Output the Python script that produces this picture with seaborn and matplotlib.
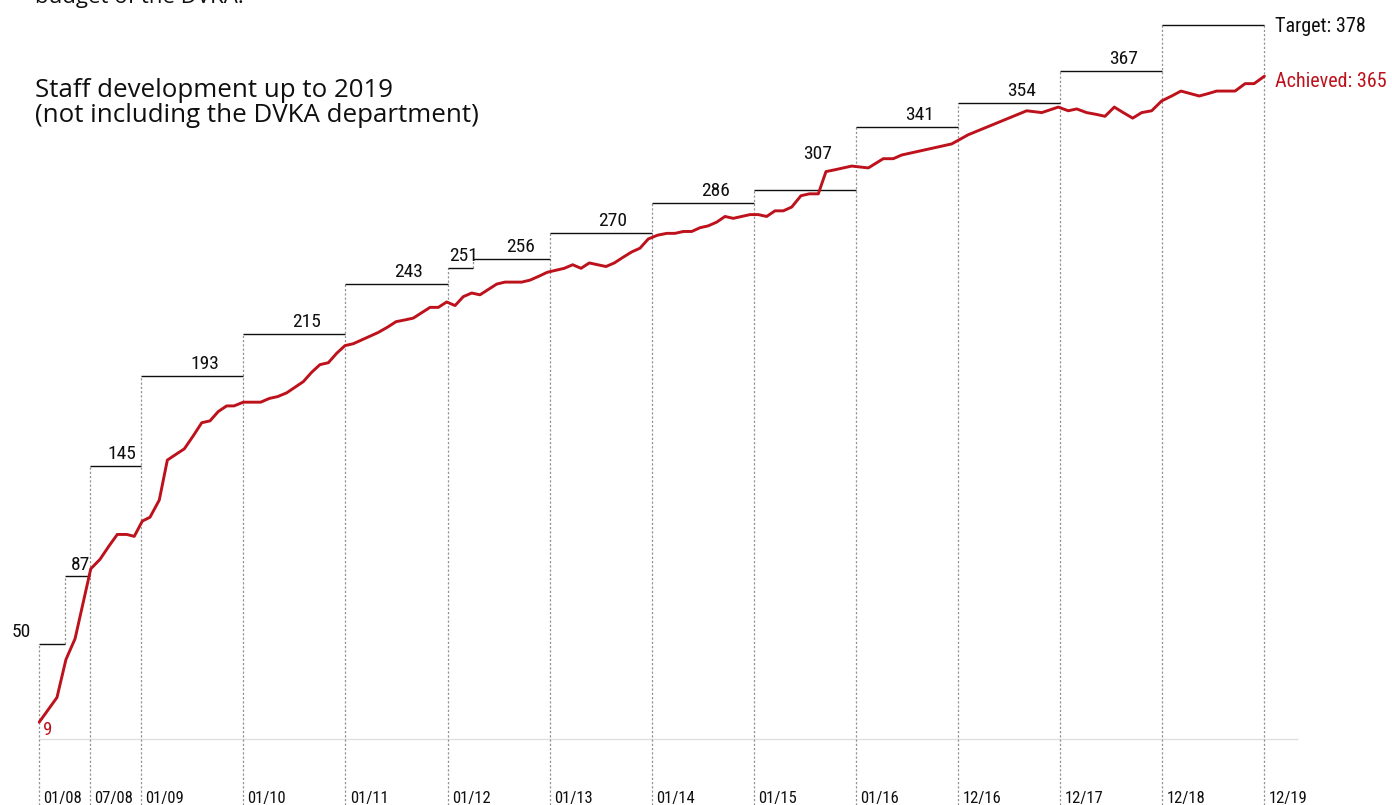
import numpy as np
import pandas as pd
import matplotlib
matplotlib.use("Agg")
import matplotlib.pyplot as plt
import seaborn as sns
from matplotlib import font_manager
from matplotlib.transforms import blended_transform_factory

# --- staffing targets per planning period (x in chart years from 01/08) ---
period_start = [0, 0.25, 0.5, 1, 2, 3, 4, 4.25, 5, 6, 7, 8, 9, 10, 11]
period_end = [0.25, 0.5, 1, 2, 3, 4, 4.25, 5, 6, 7, 8, 9, 10, 11, 12]
targets = [50, 87, 145, 193, 215, 243, 251, 256, 270, 286, 307, 341, 354, 367, 378]
# drawn height of each target level (the step levels are spaced by eye)
target_heights = [50.0, 85.7, 144.0, 191.2, 213.2, 239.6, 247.9, 252.6, 266.3,
                  282.1, 289.1, 322.1, 334.7, 351.6, 375.9]

# --- date axis ---
tick_pos = [0, 0.5, 1, 2, 3, 4, 5, 6, 7, 8, 9, 10, 11, 12]
tick_labels = ["01/08", "07/08", "01/09", "01/10", "01/11", "01/12", "01/13",
               "01/14", "01/15", "01/16", "12/16", "12/17", "12/18", "12/19"]

# --- achieved staff numbers ---
t_years = [0.000, 0.174, 0.262, 0.351, 0.505, 0.596, 0.684, 0.765, 0.857, 0.931,
           1.010, 1.085, 1.176, 1.255, 1.337, 1.421, 1.509, 1.592, 1.673, 1.754,
           1.836, 1.908, 1.999, 2.081, 2.169, 2.254, 2.336, 2.424, 2.505, 2.587,
           2.669, 2.750, 2.832, 2.914, 2.995, 3.076, 3.159, 3.240, 3.321, 3.413,
           3.495, 3.583, 3.664, 3.746, 3.828, 3.909, 3.991, 4.073, 4.154, 4.236,
           4.317, 4.399, 4.481, 4.562, 4.643, 4.726, 4.807, 4.895, 4.977, 5.062,
           5.143, 5.225, 5.307, 5.388, 5.470, 5.551, 5.633, 5.715, 5.803, 5.884,
           5.966, 6.056, 6.146, 6.227, 6.309, 6.391, 6.472, 6.553, 6.636, 6.717,
           6.798, 6.881, 6.962, 7.043, 7.125, 7.207, 7.288, 7.370, 7.461, 7.543,
           7.631, 7.706, 7.794, 7.876, 7.958, 8.121, 8.267, 8.365, 8.448, 8.529,
           8.610, 8.692, 8.774, 8.855, 8.937, 9.100, 9.672, 9.819, 9.981, 10.079,
           10.162, 10.260, 10.357, 10.439, 10.530, 10.618, 10.710, 10.798, 10.896, 10.994,
           11.092, 11.183, 11.271, 11.362, 11.451, 11.533, 11.624, 11.713, 11.811, 11.899,
           12.000]
staff = [9, 22, 42, 53, 91, 96, 103, 109, 109, 108,
         116, 118, 127, 148, 151, 154, 161, 168, 169, 174,
         177, 177, 179, 179, 179, 181, 182, 184, 187, 190,
         195, 199, 200, 205, 209, 210, 212, 214, 216, 219,
         222, 223, 224, 227, 230, 230, 233, 231, 236, 238,
         237, 240, 243, 244, 244, 244, 245, 247, 249, 250,
         251, 253, 251, 254, 253, 252, 254, 257, 260, 262,
         267, 269, 270, 270, 271, 271, 273, 274, 276, 279,
         278, 279, 280, 280, 279, 282, 282, 284, 298, 301,
         301, 317, 318, 319, 320, 319, 324, 324, 326, 327,
         328, 329, 330, 331, 332, 337, 350, 349, 352, 350,
         351, 349, 348, 347, 352, 349, 346, 349, 350, 355,
         357, 359, 358, 357, 358, 359, 359, 359, 362, 362,
         365]

RED = "#bd111c"
INK = "#0f0f0f"


def has_family(name, stretch="normal"):
    try:
        path = font_manager.findfont(
            font_manager.FontProperties(family=name, stretch=stretch),
            fallback_to_default=False)
    except ValueError:
        return False
    return path is not None


def narrow_family():
    """Return (family, stretch) of an installed narrow sans face, if any."""
    for name in ["Liberation Sans Narrow", "Roboto Condensed", "Noto Sans Condensed",
                 "Open Sans Condensed", "DejaVu Sans Condensed"]:
        if has_family(name):
            return name, "normal"
    for f in font_manager.fontManager.ttflist:
        narrow = (str(f.stretch) in ("condensed", "semi-condensed")
                  or "Narrow" in f.name or "Condensed" in f.name)
        if narrow and f.style == "normal" and f.weight in (400, "normal", "regular"):
            return f.name, f.stretch
    return None, "normal"


sns.set_theme(style="white")
WIDE = "Open Sans" if has_family("Open Sans") else "DejaVu Sans"
NARROW, STRETCH = narrow_family()
if NARROW is None:
    NARROW = "Roboto" if has_family("Roboto") else "DejaVu Sans"
    SIZES = dict(step=12.2, tick=10.6, side=12.6, first=12.5)
else:
    SIZES = dict(step=14.0, tick=12.0, side=14.5, first=13.5)
plt.rcParams["font.family"] = [NARROW, "DejaVu Sans"]
plt.rcParams["font.stretch"] = STRETCH

# vertical scale follows the drawn heights of the target steps
knots_v = np.array([-50.0, 0.0] + targets + [420.0])
knots_h = np.array([-50.0, 0.0] + target_heights + [420.0])


def forward(v):
    return np.interp(v, knots_v, knots_h)


def inverse(h):
    return np.interp(h, knots_h, knots_v)


fig = plt.figure(figsize=(13.92, 8.05), dpi=100)
ax = fig.add_axes([0, 0, 1, 1])
ax.set_axis_off()

df = pd.DataFrame({"year": t_years, "staff": staff})
sns.lineplot(data=df, x="year", y="staff", ax=ax, color=RED, linewidth=2.1,
             estimator=None, sort=False, zorder=5)

ax.set_yscale("function", functions=(forward, inverse))
ax.set_xlim(-0.384, 13.25)
ax.set_ylim(-34.6, 390.6)
y_bottom = ax.get_ylim()[0]

# light baseline at zero
ax.hlines(0, tick_pos[0], tick_pos[-1] + 0.33, color="#dedede", lw=0.9, zorder=1)

# target steps
ax.hlines(targets, period_start, period_end, color=INK, lw=1.0, zorder=3)

# dashed separators between periods
level_at = {}
for s, e, v in zip(period_start, period_end, targets):
    level_at.setdefault(s, []).append(v)
    level_at.setdefault(e, []).append(v)
for b, levels in sorted(level_at.items()):
    top = max(levels)
    low = y_bottom if b in tick_pos else min(levels)
    ax.vlines(b, low, top, color="#949494", lw=0.9,
              linestyles=(0, (1.8, 1.6)), zorder=2)

# target labels (lifted above the achieved line where it runs higher)
t_arr = np.array(t_years)
s_arr = np.array(staff)
for i, (s, e, v) in enumerate(zip(period_start, period_end, targets)):
    if i == 0:
        ax.annotate(str(v), xy=(s, v), xytext=(-6, 5), textcoords="offset points",
                    ha="right", va="baseline", fontsize=SIZES["step"], color=INK)
    elif i == len(targets) - 1:
        ax.annotate(f"Target: {v}", xy=(e, v), xytext=(7.5, -5),
                    textcoords="offset points", ha="left", va="baseline",
                    fontsize=SIZES["side"], color=INK)
    else:
        inside = (t_arr > s) & (t_arr < e)
        y_lab = max(v, s_arr[inside].max()) if inside.any() else v
        ax.annotate(str(v), xy=(s + 0.62 * (e - s), y_lab), xytext=(0, 5),
                    textcoords="offset points", ha="center", va="baseline",
                    fontsize=SIZES["step"], color=INK)

# first and latest achieved values
ax.annotate(str(staff[0]), xy=(t_years[0], staff[0]), xytext=(3, 1),
            textcoords="offset points", ha="left", va="top",
            fontsize=SIZES["first"], color=RED)
ax.annotate(f"Achieved: {staff[-1]}", xy=(t_years[-1], staff[-1]), xytext=(7.5, -7.5),
            textcoords="offset points", ha="left", va="baseline",
            fontsize=SIZES["side"], color=RED)

# date labels along the bottom edge
trans = blended_transform_factory(ax.transData, ax.transAxes)
for p, lab in zip(tick_pos, tick_labels):
    ax.annotate(lab, xy=(p, 0.0), xycoords=trans, xytext=(3, 1.2),
                textcoords="offset points", ha="left", va="baseline",
                fontsize=SIZES["tick"], color=INK)

# headings
head = dict(family=[WIDE, "DejaVu Sans"], stretch="normal", color=INK,
            va="baseline", ha="left")
fig.text(0.0251, 1 - 3.5 / 805, "budget of the DVKA.", fontsize=16, **head)
fig.text(0.0251, 1 - 97.3 / 805, "Staff development up to 2019", fontsize=18.6, **head)
fig.text(0.0251, 1 - 122.3 / 805, "(not including the DVKA department)",
         fontsize=18.6, **head)

fig.savefig("out.png", dpi=100, facecolor="white")
